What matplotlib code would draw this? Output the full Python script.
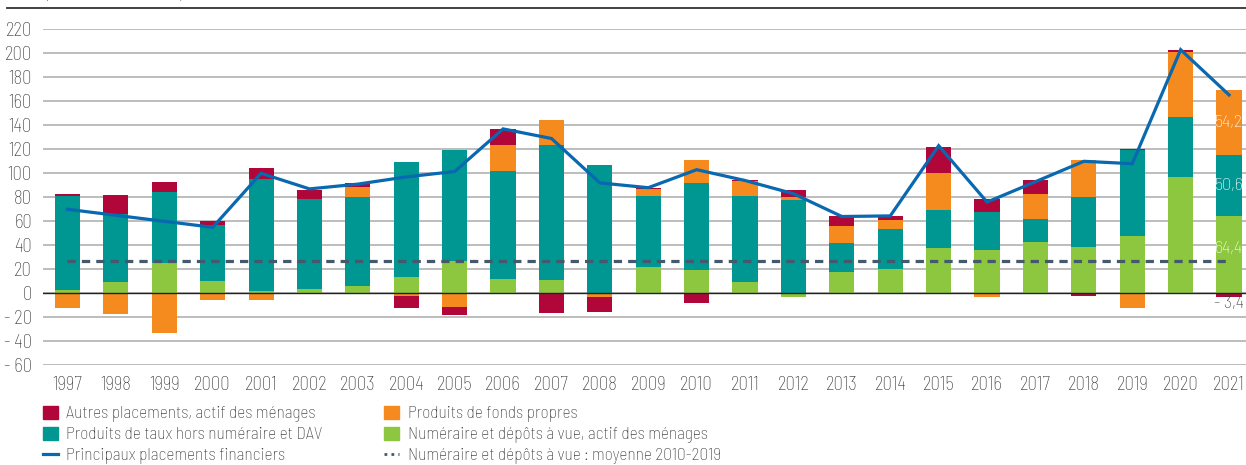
import matplotlib
matplotlib.use('Agg')
import matplotlib.pyplot as plt
import numpy as np
from matplotlib.lines import Line2D
from matplotlib.patches import Patch

plt.rcParams['font.family'] = ['Barlow Semi Condensed', 'Roboto', 'DejaVu Sans']
plt.rcParams['font.weight'] = 'light'

years = list(range(1997, 2022))
numeraire = [2.5, 9.5, 25.5, 10, 2, 4, 6, 14, 27, 12, 11, 0, 22, 19.5, 9.5, -3,
             18, 20, 38, 36, 43, 38.5, 48, 97, 64.4]
taux = [79, 57, 59, 47, 93, 74.5, 74, 95.5, 92.5, 90, 112.5, 107, 59, 72.5, 71.5, 78,
        24, 33.5, 31.5, 32, 19, 41.5, 71.5, 50, 50.6]
fonds = [-12, -17, -33, -5.5, -5.5, 0, 9, -2, -11.5, 21.5, 21, -3, 6, 19, 12.5, 2.5,
         14, 7.5, 31, -3, 21, 31.5, -12, 54, 54.2]
autres = [1.5, 15.5, 8.5, 3.5, 9.5, 7.5, 3, -10, -6.5, 13.5, -16.5, -12.5, 0.8, -8, 1, 6,
          8.5, 3.5, 21.5, 11, 11.5, -2, 1, 1.5, -3.4]
principaux = [70, 65, 60, 55, 100, 87, 91, 97, 101.5, 137, 129, 92, 88, 103, 94, 83,
              64, 64.5, 123, 76, 93, 110, 108, 203, 165.3]
moyenne_2010_2019 = 27
yticks = [-60, -40, -20, 0, 20, 40, 60, 80, 100, 120, 140, 160, 180, 200, 220]

C_RED = '#B1063A'
C_TEAL = '#009691'
C_ORANGE = '#F58B1F'
C_GREEN = '#8DC63F'
C_BLUE = '#0868B0'
C_DASH = '#44596B'
C_TXT = '#333333'

W, H = 1246, 465
fig = plt.figure(figsize=(W / 100, H / 100), dpi=100)
ax = fig.add_axes([43 / W, 1 - 365.3 / H, 1 - 43 / W, (365.3 - 29.3) / H])

x = np.arange(len(years))
w = 0.52
pos = np.zeros(len(years))
neg = np.zeros(len(years))
series = [(numeraire, C_GREEN), (taux, C_TEAL), (fonds, C_ORANGE), (autres, C_RED)]
for vals, col in series:
    v = np.array(vals, dtype=float)
    bottom = np.where(v >= 0, pos, neg)
    ax.bar(x, v, w, bottom=bottom, color=col, zorder=3, linewidth=0)
    pos = np.where(v >= 0, pos + v, pos)
    neg = np.where(v < 0, neg + v, neg)

ax.plot(x, principaux, color=C_BLUE, lw=2.3, zorder=5, solid_joinstyle='miter')
ax.hlines(moyenne_2010_2019, x[0], x[-1], colors=C_DASH, linestyles=(0, (2.6, 1.9)),
          lw=2.3, zorder=6)

# labels 2021
i = len(years) - 1
def fmt(v):
    s = ('%.1f' % abs(v)).replace('.', ',')
    return ('- ' + s) if v < 0 else s
lab_fs = 13
ax.text(x[i], numeraire[i] / 2 + 5, fmt(numeraire[i]), color='white', ha='center',
        va='center', fontsize=lab_fs, zorder=7)
ax.text(x[i], numeraire[i] + taux[i] / 2, fmt(taux[i]), color='white', ha='center',
        va='center', fontsize=lab_fs, zorder=7)
ax.text(x[i], numeraire[i] + taux[i] + fonds[i] / 2, fmt(fonds[i]), color='white',
        ha='center', va='center', fontsize=lab_fs, zorder=7)
ax.text(x[i], autres[i] - 5.8, fmt(autres[i]), color=C_TXT, ha='center', va='center',
        fontsize=lab_fs, zorder=7)

ax.set_ylim(-60, 220)
ax.set_xlim(-0.506, 24.35)
ax.set_yticks(yticks)
ax.set_yticklabels([('- %d' % abs(t)) if t < 0 else str(t) for t in yticks])
ax.set_xticks(x)
ax.set_xticklabels([str(y) for y in years])
ax.tick_params(axis='both', length=0, labelsize=13.5, colors=C_TXT)
ax.tick_params(axis='y', pad=8)
ax.tick_params(axis='x', pad=7.5)
for s in ax.spines.values():
    s.set_visible(False)
ax.grid(axis='y', color='#BDBDBD', lw=1.4, zorder=0)
ax.axhline(0, color='#222222', lw=1.0, zorder=4)

# header
fig.add_artist(Line2D([7 / W, 1], [1 - 8 / H, 1 - 8 / H], color='#333333', lw=1.3))
fig.text(45 / W, 1 - 3 / H, "(en milliards d'euros)", fontsize=13, color=C_TXT,
         ha='left', va='bottom')

handles1 = [Patch(color=C_RED), Patch(color=C_TEAL),
            Line2D([], [], color=C_BLUE, lw=2.3)]
labels1 = ['Autres placements, actif des ménages',
           'Produits de taux hors numéraire et DAV',
           'Principaux placements financiers']
handles2 = [Patch(color=C_ORANGE), Patch(color=C_GREEN),
            Line2D([], [], color=C_DASH, lw=2, linestyle=(0, (1, 1.5)))]
labels2 = ['Produits de fonds propres',
           'Numéraire et dépôts à vue, actif des ménages',
           'Numéraire et dépôts à vue : moyenne 2010-2019']
leg_kw = dict(loc='upper left', frameon=False, fontsize=12.5, handlelength=0.87,
              handleheight=0.8, handletextpad=0.5, labelspacing=0.25, labelcolor=C_TXT,
              borderaxespad=0, borderpad=0)
l1 = fig.legend(handles1, labels1, bbox_to_anchor=(42.7 / W, 1 - 405.5 / H), **leg_kw)
l2 = fig.legend(handles2, labels2, bbox_to_anchor=(384 / W, 1 - 405.5 / H), **leg_kw)

fig.savefig('out.png', dpi=100)
